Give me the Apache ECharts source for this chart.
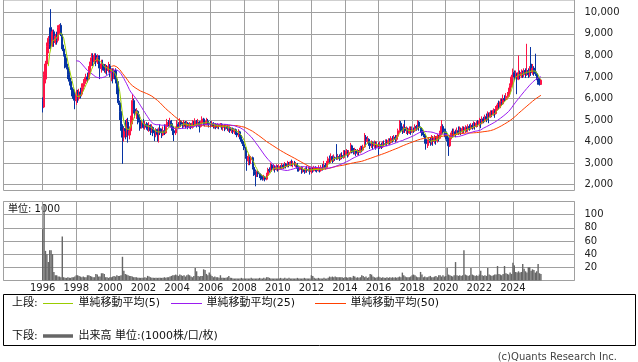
<!DOCTYPE html>
<html><head><meta charset="utf-8">
<script src="https://cdn.jsdelivr.net/npm/echarts@6/dist/echarts.min.js"></script>
<style>html,body{margin:0;padding:0;background:#fff}#c{width:638px;height:362px}</style>
</head><body><div id="c"></div>
<script>
// ---- axis range (monthly categories) ----
const axisStart = [1993, 9];
const axisEnd = [2027, 9];
const dataStart = [1996, 1];

// ---- monthly candles, Jan 1996 .. Sep 2025 (one line per year) ----
const open = [
5900,5600,6900,7600,8400,8800,9300,8500,9100,8600,8900,8700,
9300,9400,8950,8300,8050,7600,7450,7100,6800,6500,6300,6000,
5900,6200,6000,6300,6200,6500,6700,6800,7000,6900,7300,7700,
7900,7700,8000,7700,7900,7600,7400,7600,7500,7300,7400,7300,
7500,7200,7350,7000,7300,6900,6300,5800,5400,4700,4200,4600,
4500,4900,4300,4500,5000,5900,5500,5300,5400,5000,4900,4700,
4850,4650,4800,4700,4600,4750,4500,4650,4400,4300,4550,4350,
4600,4400,4300,4500,4400,4700,4900,4800,4950,4700,4500,4400,
4650,4800,4700,4950,4800,4700,4900,4750,4850,4700,4800,4650,
4850,4750,4950,4800,4900,4700,4850,5050,4900,4800,4950,4850,
4800,4750,4850,4700,4800,4650,4750,4700,4800,4650,4750,4650,
4700,4600,4650,4500,4600,4450,4550,4400,4300,4450,4250,4000,
3850,3700,3300,3100,3300,3150,3250,2800,2600,2450,2600,2500,
2450,2300,2250,2350,2250,2450,2700,2650,2900,2750,2850,2700,
2800,2700,2850,2750,2900,2800,2950,2850,3000,2900,3050,2950,
3000,2900,2950,2750,2700,2800,2650,2700,2600,2700,2650,2750,
2600,2700,2650,2800,2700,2650,2750,2650,2800,2750,2900,2800,
3000,3200,3100,3300,3150,3250,3400,3250,3300,3200,3350,3250,
3500,3400,3550,3400,3500,3800,3600,3500,3600,3450,3550,3500,
3700,3600,3750,4200,4000,4100,3900,3800,3950,3800,3900,3750,
3850,3700,3850,3750,3900,3850,4000,3900,4050,3950,4150,4100,
4200,4100,4250,4500,4850,4600,4500,4650,4500,4550,4400,4600,
4450,4550,4500,4700,4650,4900,4650,4550,4450,4300,4100,3900,
4000,4100,3950,4150,4000,4150,4050,4250,4150,4400,4700,4500,
4450,4300,4100,3800,4200,4400,4300,4450,4350,4500,4400,4550,
4450,4600,4500,4650,4550,4700,4600,4750,4650,4800,4700,4850,
4800,4950,4850,5050,4950,5150,5050,5300,5150,5350,5250,5450,
5300,5550,5700,5600,5850,5750,6000,5950,6050,6100,6300,6600,
7000,7200,7000,7150,6900,7200,7050,7200,7100,7300,7150,7300,
7100,7600,7200,7400,7400,7150,7000,6900,6650
];
const close = [
5600,7100,7600,8400,8800,8500,8600,9100,8600,8900,8700,9300,
9400,8950,8300,8050,7600,7450,7100,6800,6500,6300,6000,5900,
6200,6000,6300,6200,6500,6700,6800,7000,6900,7300,7700,7900,
7700,8000,7700,7900,7600,7400,7600,7500,7300,7400,7300,7500,
7200,7350,7000,7300,6900,6300,5800,5400,4700,4200,4600,4500,
4900,4300,4500,5000,5900,5500,5300,5400,5000,4900,4700,4850,
4650,4800,4700,4600,4750,4500,4650,4400,4300,4550,4350,4600,
4400,4300,4500,4400,4700,4900,4800,4950,4700,4500,4400,4650,
4800,4700,4950,4800,4700,4900,4750,4850,4700,4800,4650,4850,
4750,4950,4800,4900,4700,4850,5050,4900,4800,4950,4850,4800,
4750,4850,4700,4800,4650,4750,4700,4800,4650,4750,4650,4700,
4600,4650,4500,4600,4450,4550,4400,4300,4450,4250,4000,3850,
3700,3300,3100,3300,3150,3250,2800,2600,2450,2600,2500,2450,
2300,2250,2350,2250,2450,2700,2650,2900,2750,2850,2700,2800,
2700,2850,2750,2900,2800,2950,2850,3000,2900,3050,2950,3000,
2900,2950,2750,2700,2800,2650,2700,2600,2700,2650,2750,2600,
2700,2650,2800,2700,2650,2750,2650,2800,2750,2900,2800,3000,
3200,3100,3300,3150,3250,3200,3250,3300,3200,3350,3250,3500,
3400,3550,3400,3500,3800,3600,3500,3600,3450,3550,3500,3700,
3600,3750,4200,4000,4100,3900,3800,3950,3800,3900,3750,3850,
3700,3850,3750,3900,3850,4000,3900,4050,3950,4150,4100,4200,
4100,4250,4500,4850,4600,4500,4650,4500,4550,4400,4600,4450,
4550,4500,4700,4650,4900,4650,4550,4450,4300,4100,3900,4000,
4100,3950,4150,4000,4150,4050,4250,4150,4400,4700,4500,4450,
4300,4100,3800,4200,4400,4300,4450,4350,4500,4400,4550,4450,
4600,4500,4650,4550,4700,4600,4750,4650,4800,4700,4850,4800,
4950,4850,5050,4950,5150,5050,5300,5150,5350,5250,5450,5300,
5550,5700,5600,5850,5750,6000,5950,6050,6100,6300,6600,7000,
7200,7000,7150,6900,7200,7050,7200,7100,7300,7150,7300,7100,
7400,7200,7400,7200,7150,7000,6750,6650,6850
];
const low = [
5350,5550,6700,7500,8100,8300,8300,8400,8400,8500,8500,8600,
9000,8900,8200,7950,7400,7350,6900,6600,6400,6100,5900,5500,
5700,5800,5900,6000,6100,6400,6550,6700,6750,6850,7200,7500,
7500,7600,7500,7600,7400,6900,7200,7300,7200,7150,7100,7200,
7000,6800,6700,6900,6700,6200,5700,5000,4500,2960,4000,4100,
4200,3950,4100,4400,4800,5300,5100,5050,4800,4500,4600,4600,
4600,4550,4550,4500,4450,4300,4400,4250,4020,4200,4000,3950,
4300,4160,4250,4300,4350,4600,4700,4700,4500,4300,4020,4300,
4600,4600,4650,4700,4600,4650,4600,4650,4570,4600,4570,4600,
4650,4700,4650,4700,4420,4650,4800,4750,4700,4750,4750,4650,
4650,4700,4600,4600,4570,4600,4570,4650,4550,4500,4480,4550,
4500,4450,4400,4400,4350,4340,4300,4200,4200,4100,3900,3790,
3600,3200,2640,2900,2900,2950,2700,2400,1920,2350,2350,2300,
2200,2180,2200,2150,2200,2400,2550,2600,2600,2650,2560,2650,
2600,2650,2700,2730,2730,2750,2750,2800,2800,2850,2850,2800,
2850,2800,2600,2600,2650,2500,2550,2500,2550,2550,2600,2460,
2500,2550,2600,2600,2560,2600,2560,2600,2650,2700,2700,2750,
2950,2950,3000,3000,3050,3100,3150,3150,3100,3150,3180,3200,
3300,3350,3250,3300,3450,3450,3400,3400,3330,3350,3350,3450,
3500,3550,3700,3850,3900,3800,3650,3700,3620,3700,3620,3700,
3350,3650,3650,3700,3750,3800,3790,3850,3850,3900,3950,4000,
3950,4000,4200,4400,4450,4350,4400,4400,4350,4300,4350,4310,
4400,4400,4450,4500,4550,4500,4400,4250,4200,3900,3620,3700,
3800,3800,3850,3800,3900,3850,3950,4000,4100,4300,4350,4200,
4100,4000,3330,3750,4100,4200,4250,4200,4300,4300,4350,4300,
4350,4400,4400,4450,4450,4500,4550,4550,4600,4550,4650,4700,
4700,4620,4800,4850,4900,4900,5000,4850,5100,5150,5200,5100,
5250,5450,5500,5550,5650,5700,5850,5900,5950,6050,6250,6500,
6900,6850,6950,6200,6850,6900,6950,6950,7000,6950,7050,6950,
7000,7050,7100,7050,7050,6850,6640,6600,6640
];
const high = [
6050,7250,7750,8600,8900,9300,10150,9200,9200,9000,9100,9400,
9450,9500,9000,8500,8100,7900,7500,7300,6950,6700,6450,6400,
6400,6400,6450,6500,6700,6900,7000,7150,7200,7500,7900,8100,
8100,8100,8100,8050,8000,8000,7800,7800,7600,7600,7550,7700,
7600,7400,7400,7400,7400,7000,6800,5900,5500,4800,4650,5000,
5050,5100,4700,5200,6200,6000,5600,5550,5450,5260,5000,5000,
5050,4950,4900,4850,4900,4800,4800,4700,4550,4620,4600,4650,
4800,4600,4700,4800,4800,5050,5000,5100,5000,4850,4700,4700,
5000,4900,5080,5000,4900,5000,4950,4950,4900,4900,4850,5000,
4950,5080,5000,5050,4950,4950,5170,5100,5000,5100,5050,4950,
4950,4950,4900,4850,4850,4850,4800,4860,4850,4800,4800,4800,
4750,4710,4700,4650,4650,4600,4600,4500,4570,4500,4300,4100,
3950,3750,3350,3420,3350,3330,3300,2850,2700,2650,2650,2550,
2500,2400,2450,2400,2550,2780,2800,3020,2950,2950,2900,2940,
2900,2950,2900,3000,2950,3050,3000,3100,3050,3100,3160,3100,
3100,3050,3000,2850,2870,2850,2800,2750,2800,2870,2850,2800,
2800,2800,2870,2850,2800,2900,2800,2900,2950,3100,3000,3100,
3300,3350,3450,3350,3400,3300,3880,3400,3400,3450,3500,3600,
3600,3650,3600,3600,3940,3850,3700,3710,3650,3650,3600,3800,
3800,3850,4390,4300,4250,4150,4080,4050,4000,4050,4000,4000,
3950,4000,3950,4020,4050,4100,4100,4150,4150,4250,4250,4300,
4300,4300,4600,5000,4950,4700,4800,5000,4700,4650,4700,4700,
4700,4650,4800,4770,5000,4950,4700,4650,4500,4350,4250,4100,
4200,4200,4300,4250,4300,4250,4350,4300,4500,5000,4800,4600,
4600,4400,4200,4300,4500,4600,4600,4550,4650,4700,4700,4650,
4710,4700,4750,4700,4800,4800,4850,4850,4940,4900,4950,5000,
5100,5050,5170,5150,5250,5300,5400,5350,5450,5450,5540,5500,
5650,5800,5900,6000,6000,6180,6150,6250,6300,6500,6700,7100,
7390,7300,7300,7200,8000,7300,7350,7300,7400,7400,8540,7400,
7500,8390,7600,7500,8080,7250,7100,7000,6900
];
// volume, unit 1000 shares
const volume = [
78,115,45,40,28,46,46,40,13,8,8,6,
6,5,67,5,4,4,5,4,4,5,5,6,
8,8,7,6,5,6,5,5,8,8,7,6,
5,5,10,9,6,6,11,11,10,5,5,4,
5,5,6,7,6,8,7,7,8,36,15,10,
9,8,7,7,6,5,5,5,4,4,4,4,
4,5,4,7,6,5,4,4,4,4,4,4,
4,4,4,5,4,5,5,6,7,8,8,9,
8,7,9,8,7,8,6,8,9,8,6,5,
7,19,14,7,6,7,7,17,16,10,8,12,
9,7,5,6,5,5,4,8,4,4,4,4,
5,7,4,4,3,3,3,3,3,3,4,3,
3,3,3,3,3,4,3,3,3,3,3,4,
3,3,4,3,5,5,4,3,3,3,3,3,
3,3,4,3,3,4,3,3,4,3,3,3,
3,3,4,3,3,3,3,4,3,3,3,3,
8,7,4,3,3,4,3,3,3,4,3,3,
4,6,5,6,5,6,5,5,5,5,5,4,
5,5,4,5,5,4,7,6,4,5,4,5,
8,7,5,6,4,5,10,9,6,5,4,5,
6,5,4,5,4,4,5,4,5,4,5,4,
5,4,5,6,5,12,8,6,5,5,5,6,
8,9,8,6,5,5,13,9,5,6,5,5,
6,7,5,5,6,7,5,8,8,6,8,6,
7,19,9,8,7,6,8,28,8,7,8,7,
8,46,9,8,7,8,19,9,8,7,8,7,
9,15,8,7,8,7,19,9,8,7,8,9,
9,22,10,9,8,10,22,11,10,9,12,10,
27,23,13,12,14,12,13,25,18,14,12,20,
20,15,17,16,12,14,25,11,10
];

// ---- tick labels ----
const priceTicks = [2000,3000,4000,5000,6000,7000,8000,9000,10000];
const volumeTicks = [20,40,60,80,100];
const yearTicks = ['1996','1998','2000','2002','2004','2006','2008','2010','2012','2014','2016','2018','2020','2022','2024'];
const maPeriods = [5,25,50];

// ---- build ----
const FONT = "'DejaVu Sans','Noto Sans CJK JP',sans-serif";
const GRID = '#a0a0a0';
const UP = '#ff1446', DOWN = '#0633a3';
const MA_COLORS = ['#99cc00', '#9b1cf0', '#ff4000'];

const cats = [];
{
  let y = axisStart[0], m = axisStart[1];
  while (y < axisEnd[0] || (y === axisEnd[0] && m <= axisEnd[1])) {
    cats.push(y + '-' + String(m).padStart(2, '0'));
    m++; if (m > 12) { m = 1; y++; }
  }
}
const offset = (dataStart[0] - axisStart[0]) * 12 + (dataStart[1] - axisStart[1]);
const N = close.length;
const idx = i => { const j = i - offset; return (j >= 0 && j < N) ? j : -1; };
const candles = cats.map((c, i) => { const j = idx(i); return j < 0 ? ['-','-','-','-'] : [open[j], close[j], low[j], high[j]]; });
const vols = cats.map((c, i) => { const j = idx(i); return j < 0 ? '-' : volume[j]; });
function ma(n) {
  return cats.map((c, i) => {
    const j = idx(i);
    if (j < n - 1) return '-';
    let s = 0; for (let k = j - n + 1; k <= j; k++) s += close[k];
    return +(s / n).toFixed(1);
  });
}
const isYearTick = v => v.endsWith('-01') && yearTicks.indexOf(v.slice(0, 4)) >= 0;

const chart = echarts.init(document.getElementById('c'), null, {renderer: 'canvas'});
const xAxisFor = (gi, showLabel) => ({
  type: 'category', gridIndex: gi, data: cats, boundaryGap: false,
  axisLine: {show: false}, axisTick: {show: false},
  axisLabel: showLabel ? {show: true, interval: (i, v) => isYearTick(v), formatter: v => v.slice(0, 4),
    margin: 3, color: '#222', fontSize: 10, fontFamily: FONT} : {show: false},
  splitLine: {show: true, interval: (i, v) => isYearTick(v), lineStyle: {color: GRID, width: 1}}
});
const textStyle = (x, y, t, extra) => ({type: 'text', x: x, y: y, silent: true,
  style: Object.assign({text: t, font: '11px ' + FONT, fill: '#111', verticalAlign: 'middle', align: 'left'}, extra || {})});
const seg = (x1, x2, y, color, w) => ({type: 'line', silent: true, shape: {x1: x1, y1: y, x2: x2, y2: y},
  style: {stroke: color, lineWidth: w || 1}});

chart.setOption({
  animation: false,
  textStyle: {fontFamily: FONT},
  grid: [
    {left: 3.5, right: 63.5, top: -2, height: 192.5, show: true, borderColor: GRID, borderWidth: 1, backgroundColor: 'transparent'},
    {left: 3.5, right: 63.5, top: 201.5, height: 79, show: true, borderColor: GRID, borderWidth: 1, backgroundColor: 'transparent'}
  ],
  xAxis: [xAxisFor(0, false), xAxisFor(1, true)],
  yAxis: [
    {type: 'value', gridIndex: 0, position: 'right', min: 1724, max: 10575,
      axisLine: {show: false}, axisTick: {show: false, customValues: priceTicks},
      axisLabel: {customValues: priceTicks, margin: 10, color: '#222', fontSize: 10, fontFamily: FONT,
        formatter: v => Number(v).toLocaleString('en-US')},
      splitLine: {show: true, lineStyle: {color: GRID, width: 1}}},
    {type: 'value', gridIndex: 1, position: 'right', min: 0, max: 120, interval: 20,
      axisLine: {show: false}, axisTick: {show: false},
      axisLabel: {margin: 10, color: '#222', fontSize: 10, fontFamily: FONT,
        formatter: v => volumeTicks.indexOf(v) >= 0 ? String(v) : ''},
      splitLine: {show: true, lineStyle: {color: GRID, width: 1}}}
  ],
  series: [
    {type: 'candlestick', xAxisIndex: 0, yAxisIndex: 0, data: candles, barWidth: 1.6,
      itemStyle: {color: UP, color0: DOWN, borderColor: UP, borderColor0: DOWN, borderWidth: 1}},
    {type: 'line', name: 'MA50', xAxisIndex: 0, yAxisIndex: 0, data: ma(maPeriods[2]), showSymbol: false, symbol: 'none',
      lineStyle: {color: MA_COLORS[2], width: 1}},
    {type: 'line', name: 'MA25', xAxisIndex: 0, yAxisIndex: 0, data: ma(maPeriods[1]), showSymbol: false, symbol: 'none',
      lineStyle: {color: MA_COLORS[1], width: 1}},
    {type: 'line', name: 'MA5', xAxisIndex: 0, yAxisIndex: 0, data: ma(maPeriods[0]), showSymbol: false, symbol: 'none',
      lineStyle: {color: MA_COLORS[0], width: 1}},
    {type: 'bar', xAxisIndex: 1, yAxisIndex: 1, data: vols, barWidth: 1.4, itemStyle: {color: '#666666'}}
  ],
  graphic: [
    textStyle(8, 209, '単位: 1000', {font: '10px ' + FONT}),
    {type: 'rect', silent: true, shape: {x: 3.5, y: 294.5, width: 632, height: 51}, style: {fill: 'none', stroke: '#000', lineWidth: 1}},
    textStyle(12, 303.5, '上段:'),
    seg(43, 73, 303.5, MA_COLORS[0]),
    textStyle(78.5, 303.5, '単純移動平均(5)'),
    seg(171, 202, 303.5, MA_COLORS[1]),
    textStyle(206.5, 303.5, '単純移動平均(25)'),
    seg(315, 346, 303.5, MA_COLORS[2]),
    textStyle(350.5, 303.5, '単純移動平均(50)'),
    textStyle(12, 336, '下段:'),
    seg(43, 73, 336, '#666666', 3.5),
    textStyle(78.5, 336, '出来高 単位:(1000株/口/枚)'),
    textStyle(617, 357.5, '(c)Quants Research Inc.', {align: 'right', font: '10px ' + FONT, fill: '#444'})
  ]
});
</script></body></html>
